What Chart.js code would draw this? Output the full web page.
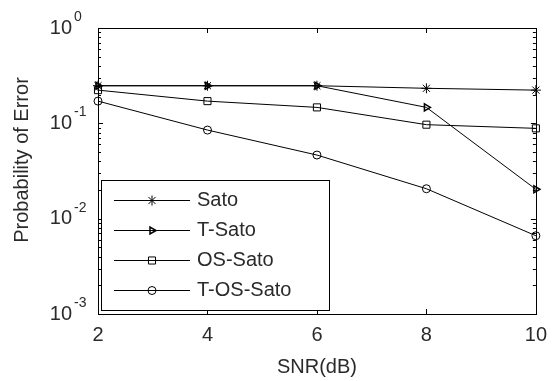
<!DOCTYPE html>
<html>
<head>
<meta charset="utf-8">
<script src="https://cdn.jsdelivr.net/npm/chart.js@4/dist/chart.umd.min.js"></script>
<style>
  html, body { margin: 0; padding: 0; background: #fff; }
  #wrap { width: 556px; height: 381px; }
</style>
</head>
<body>
<div id="wrap"><canvas id="chart" width="556" height="381"></canvas></div>
<script>
// valeurs
const snr = [2, 4, 6, 8, 10];
const sato = [0.248, 0.248, 0.248, 0.233, 0.223];
const tSato = [0.248, 0.248, 0.248, 0.147, 0.0203];
const osSato = [0.223, 0.171, 0.147, 0.0968, 0.0886];
const tOsSato = [0.171, 0.085, 0.0465, 0.0206, 0.00662];
const seriesNames = ['Sato', 'T-Sato', 'OS-Sato', 'T-OS-Sato'];
const xTicks = [2, 4, 6, 8, 10];
const yDecades = [-3, -2, -1, 0];

const FONT = 'Arial, "Liberation Sans", sans-serif';
const TXT = '#2a2a2a';
const FS = 20;

function mkSet(label, vals, style, rot, r) {
  return {
    label: label,
    data: snr.map((x, i) => ({ x: x, y: vals[i] })),
    borderColor: '#000',
    borderWidth: 1,
    backgroundColor: 'rgba(0,0,0,0)',
    pointStyle: style,
    rotation: rot || 0,
    pointRadius: r,
    pointBorderColor: '#000',
    pointBorderWidth: style === 'triangle' ? 1.5 : 1,
    pointHoverRadius: r,
    tension: 0,
    fill: false,
    clip: false
  };
}

const datasets = [
  mkSet(seriesNames[0], sato, 'star', 0, 5),
  mkSet(seriesNames[1], tSato, 'triangle', 90, 4),
  mkSet(seriesNames[2], osSato, 'rect', 0, 5),
  mkSet(seriesNames[3], tOsSato, 'circle', 0, 4)
];

// cadre, graduations, étiquettes 10^n et légende façon MATLAB
const matlabAxes = {
  id: 'matlabAxes',
  afterDraw(chart) {
    const ctx = chart.ctx;
    const a = chart.chartArea;
    const xs = chart.scales.x, ys = chart.scales.y;
    ctx.save();
    ctx.strokeStyle = '#000';
    ctx.lineWidth = 1;
    ctx.strokeRect(Math.round(a.left) + 0.5, Math.round(a.top) + 0.5, Math.round(a.right - a.left), Math.round(a.bottom - a.top));
    ctx.beginPath();
    xTicks.forEach(v => {
      const px = Math.round(xs.getPixelForValue(v)) + 0.5;
      ctx.moveTo(px, a.bottom); ctx.lineTo(px, a.bottom - 5);
      ctx.moveTo(px, a.top); ctx.lineTo(px, a.top + 5);
    });
    yDecades.forEach(e => {
      for (let m = 1; m <= 9; m++) {
        const v = m * Math.pow(10, e);
        if (v > 1) break;
        const py = Math.round(ys.getPixelForValue(v)) + 0.5;
        const len = m === 1 ? 5 : 3;
        ctx.moveTo(a.left, py); ctx.lineTo(a.left + len, py);
        ctx.moveTo(a.right, py); ctx.lineTo(a.right - len, py);
      }
    });
    ctx.stroke();

    // étiquettes y avec exposant
    ctx.fillStyle = TXT;
    ctx.textBaseline = 'middle';
    yDecades.forEach(e => {
      const py = ys.getPixelForValue(Math.pow(10, e));
      ctx.font = FS + 'px ' + FONT;
      ctx.textAlign = 'right';
      ctx.fillText('10', 72, py);
      ctx.font = '14px ' + FONT;
      ctx.textAlign = 'left';
      ctx.fillText(String(e), 74, py - 11);
    });

    // légende
    const lx = 101, ly = 180, lw = 228, lh = 130;
    ctx.fillStyle = '#fff';
    ctx.fillRect(lx, ly, lw, lh);
    ctx.strokeStyle = '#000';
    ctx.strokeRect(lx + 0.5, ly + 0.5, lw, lh);
    chart.data.datasets.forEach((ds, i) => {
      const y = ly + 20 + i * 30;
      ctx.strokeStyle = '#000';
      ctx.lineWidth = 1;
      ctx.beginPath();
      ctx.moveTo(114, y + 0.5); ctx.lineTo(190, y + 0.5);
      ctx.stroke();
      ctx.fillStyle = ds.backgroundColor;
      ctx.lineWidth = ds.pointBorderWidth;
      Chart.helpers.drawPoint(ctx, {
        pointStyle: ds.pointStyle, rotation: ds.rotation,
        radius: ds.pointRadius, borderWidth: ds.pointBorderWidth
      }, 152, y + 0.5);
      ctx.fillStyle = TXT;
      ctx.font = FS + 'px ' + FONT;
      ctx.textAlign = 'left';
      ctx.textBaseline = 'middle';
      ctx.fillText(ds.label, 197, y);
    });

    // titre de l'axe y
    ctx.translate(22, 160);
    ctx.rotate(-Math.PI / 2);
    ctx.textAlign = 'center';
    ctx.font = FS + 'px ' + FONT;
    ctx.fillText('Probability of Error', 0, 0);
    ctx.restore();
  }
};

new Chart(document.getElementById('chart'), {
  type: 'line',
  data: { datasets: datasets },
  options: {
    responsive: false,
    animation: false,
    layout: { padding: { top: 28, right: 13, left: 0, bottom: 0 } },
    plugins: { legend: { display: false }, tooltip: { enabled: false } },
    scales: {
      x: {
        type: 'linear', min: 2, max: 10,
        grid: { display: false, drawTicks: false },
        border: { display: false },
        afterBuildTicks: s => { s.ticks = xTicks.map(v => ({ value: v })); },
        ticks: { color: TXT, font: { family: FONT, size: FS }, padding: 9, maxRotation: 0 },
        title: { display: true, text: 'SNR(dB)', color: TXT, font: { family: FONT, size: FS }, padding: 2 },
        afterFit: s => { s.height = 67; }
      },
      y: {
        type: 'logarithmic', min: 0.001, max: 1,
        grid: { display: false, drawTicks: false },
        border: { display: false },
        ticks: { display: false },
        afterFit: s => { s.width = 98; }
      }
    }
  },
  plugins: [matlabAxes]
});
</script>
</body>
</html>
